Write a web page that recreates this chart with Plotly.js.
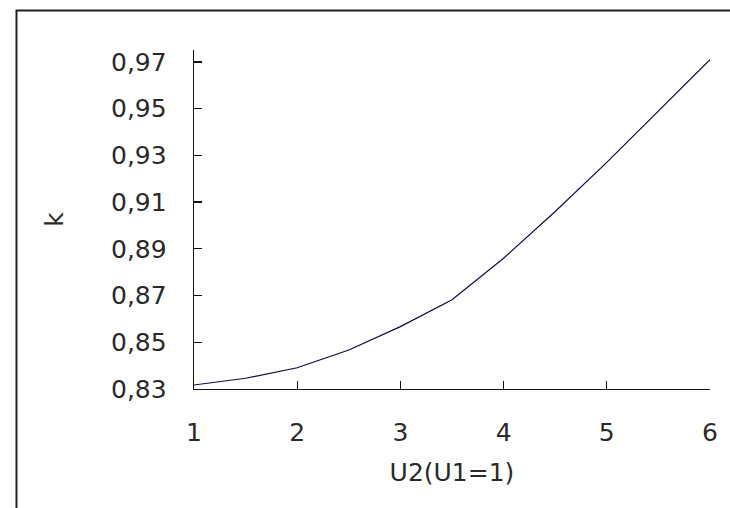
<!DOCTYPE html>
<html>
<head>
<meta charset="utf-8">
<script src="https://cdn.plot.ly/plotly-3.0.1.min.js"></script>
<style>html,body{margin:0;padding:0;background:#fff;}#chart{width:730px;height:508px;}</style>
</head>
<body>
<div id="chart"></div>
<script>
var xValues = [1, 1.5, 2, 2.5, 3, 3.5, 4, 4.5, 5, 5.5, 6];
var kValues = [0.8317, 0.8346, 0.8391, 0.8467, 0.8567, 0.8682, 0.886, 0.906, 0.927, 0.949, 0.971];
var xTicks = [1, 2, 3, 4, 5, 6];
var yTicks = [0.83, 0.85, 0.87, 0.89, 0.91, 0.93, 0.95, 0.97];
var xTitle = 'U2(U1=1)';
var yTitle = 'k';

var fontFam = 'DejaVu Sans, sans-serif';
var txtColor = '#2a2a2a';
var trace = {
  x: xValues, y: kValues, type: 'scatter', mode: 'lines',
  line: {color: '#0a0a50', width: 1.2}, hoverinfo: 'none'
};
var layout = {
  width: 730, height: 508,
  margin: {l: 194, r: 20, t: 50, b: 119},
  paper_bgcolor: '#fff', plot_bgcolor: '#fff',
  separators: ',.',
  showlegend: false,
  font: {family: fontFam, size: 25, color: txtColor},
  xaxis: {
    range: [1, 6], tickvals: xTicks, ticktext: xTicks.map(String),
    showgrid: false, zeroline: false, showline: true, linecolor: '#111', linewidth: 1.3,
    ticks: 'inside', ticklen: 8, tickcolor: '#111', tickwidth: 1.3,
    ticklabelstandoff: 21,
    tickfont: {family: fontFam, size: 25, color: txtColor},
    title: {text: xTitle, font: {family: fontFam, size: 25, color: txtColor}, standoff: 17}
  },
  yaxis: {
    range: [0.83, 0.9751], tickvals: yTicks, tickformat: '.2f',
    showgrid: false, zeroline: false, showline: true, linecolor: '#111', linewidth: 1.3,
    ticks: 'inside', ticklen: 8, tickcolor: '#111', tickwidth: 1.3,
    ticklabelstandoff: 21,
    tickfont: {family: fontFam, size: 25, color: txtColor},
    title: {text: yTitle, font: {family: fontFam, size: 25, color: txtColor}, standoff: 40}
  },
  shapes: [{
    type: 'rect', xref: 'paper', yref: 'paper',
    x0: -0.344, x1: 1.06, y0: -0.39, y1: 1.1165,
    line: {color: '#222', width: 2}, fillcolor: 'rgba(0,0,0,0)', layer: 'below'
  }]
};
Plotly.newPlot('chart', [trace], layout, {staticPlot: true, displayModeBar: false});
</script>
</body>
</html>
